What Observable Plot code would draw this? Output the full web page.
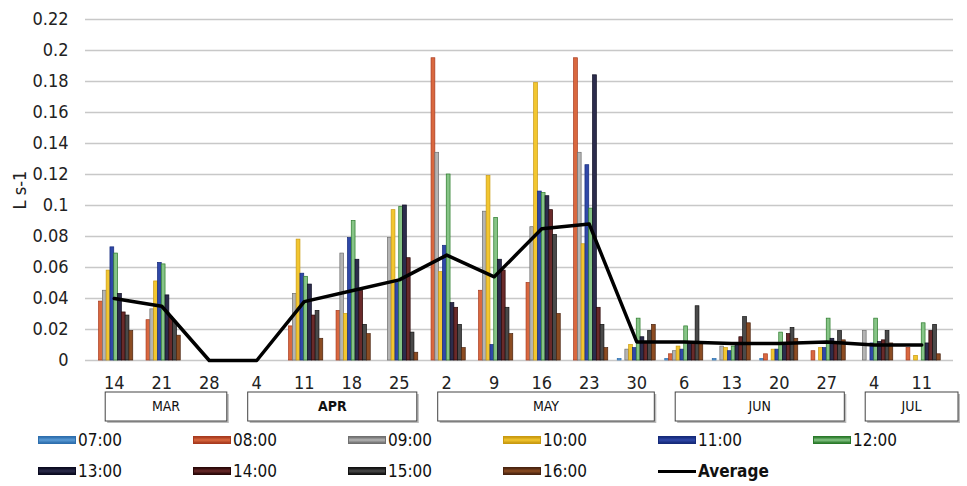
<!DOCTYPE html>
<html><head><meta charset="utf-8">
<script src="https://cdn.jsdelivr.net/npm/d3@7"></script>
<script src="https://cdn.jsdelivr.net/npm/@observablehq/plot@0.6"></script>
<style>
body{margin:0;background:#fff;font-family:"Liberation Sans Narrow","Arial Narrow","DejaVu Sans Condensed",Arial,sans-serif;}
#legend{position:relative;height:56px;width:967px;}
.item{position:absolute;display:flex;align-items:center;font-size:17px;color:#111;height:20px;}
.sw{width:38px;height:8px;margin-right:2px;box-sizing:border-box;}
</style></head><body><div id="chart"></div><div id="legend"></div>
<script>
const dates = ["14","21","28","4","11","18","25","2","9","16","23","30","6","13","20","27","4","11"];
const monthNames = ["MAR","APR","MAY","JUN","JUL"];
const monthFirst = [0,3,7,12,16];
const monthLast = [2,6,11,15,17];
const hours = ["07:00","08:00","09:00","10:00","11:00","12:00","13:00","14:00","15:00","16:00"];
const yTicks = [0,0.02,0.04,0.06,0.08,0.1,0.12,0.14,0.16,0.18,0.2,0.22];

const h07 = [0,0,0,0,0,0,0,0,0,0,0,0.001,0.001,0.001,0.001,0,0,0];
const h08 = [0.038,0.026,0,0,0.022,0.032,0,0.195,0.045,0.050,0.195,0,0.004,0,0.004,0.006,0,0.008];
const h09 = [0.045,0.033,0,0,0.043,0.069,0.079,0.134,0.096,0.086,0.134,0.007,0.006,0.009,0,0,0.019,0];
const h10 = [0.058,0.051,0,0,0.078,0.030,0.097,0.057,0.119,0.179,0.075,0.010,0.009,0.008,0.007,0.008,0,0.003];
const h11 = [0.073,0.063,0,0,0.056,0.079,0.050,0.074,0.010,0.109,0.126,0.008,0.007,0.006,0.007,0.008,0.011,0];
const h12 = [0.069,0.062,0,0,0.054,0.090,0.099,0.120,0.092,0.108,0.098,0.027,0.022,0.009,0.018,0.027,0.027,0.024];
const h13 = [0.043,0.042,0,0,0.049,0.065,0.100,0.037,0.065,0.106,0.184,0.015,0.012,0.011,0.010,0.014,0.012,0.011];
const h14 = [0.031,0.028,0,0,0.029,0.045,0.066,0.034,0.058,0.097,0.034,0.012,0.012,0.015,0.017,0.012,0.013,0.019];
const h15 = [0.029,0.025,0,0,0.032,0.023,0.018,0.023,0.034,0.081,0.023,0.019,0.035,0.028,0.021,0.019,0.019,0.023];
const h16 = [0.019,0.016,0,0,0.014,0.017,0.005,0.008,0.017,0.030,0.008,0.023,0.012,0.024,0.014,0.013,0.011,0.004];
const avg = [0.040,0.035,0,0,0.038,0.045,0.052,0.068,0.054,0.085,0.088,0.012,0.012,0.011,0.011,0.012,0.010,0.010];

const fills = ["#5b9bd5","#d9683f","#b4b4b4","#f2c630","#3048a8","#86c486","#2c2c4c","#6a2a2a","#4a4a4a","#8c4c22"];
const strokes = ["#2e6fae","#a83a1e","#707070","#c99a10","#152a7a","#2a7a2a","#0a0a20","#2a0808","#111111","#4a2410"];
const series = [h07,h08,h09,h10,h11,h12,h13,h14,h15,h16];

const table = [];
series.forEach((s,k)=>s.forEach((v,i)=>{ if(v>0) table.push({i,k,value:v}); }));

const FONT = '"Liberation Sans Narrow","Arial Narrow","DejaVu Sans Condensed",Arial,sans-serif';
const W = 967, H = 430, MB = 70;
const bw = 0.8/hours.length;

const chart = Plot.plot({
  width: W, height: H, marginLeft: 85, marginRight: 14, marginTop: 19, marginBottom: MB,
  style: {fontFamily: FONT, fontSize: "18px", color: "#222", background: "white"},
  x: {domain: [-0.5, dates.length - 0.5], range: [90, 945], axis: null},
  y: {domain: [0, 0.22], axis: null},
  color: {type: "identity"},
  marks: [
    Plot.ruleY(yTicks, {stroke: "#c8c8c8", strokeWidth: 1.5}),
    Plot.axisY(yTicks, {tickSize: 0, tickPadding: 17, tickFormat: d => String(+d.toFixed(2)), fontSize: 18,
      label: "L s-1", labelAnchor: "center", labelArrow: "none", labelOffset: 72}),
    Plot.axisX(d3.range(dates.length), {tickSize: 0, tickPadding: 16, tickFormat: i => dates[i], fontSize: 18, label: null}),
    Plot.rect(table, {x1: d => d.i - 0.4 + d.k*bw, x2: d => d.i - 0.4 + (d.k+1)*bw, y1: 0, y2: "value",
      fill: d => fills[d.k], stroke: d => strokes[d.k], strokeWidth: 0.7}),
    Plot.line(avg, {x: (d,i) => i, y: d => d, stroke: "#000", strokeWidth: 3.5})
  ]
});
document.getElementById("chart").appendChild(chart);

// month boxes under the date ticks
const xs = chart.scale("x");
const svg = d3.select(chart);
const g = svg.append("g");
const by = H - MB + 32, bh = 29;
monthNames.forEach((m,j) => {
  const x1 = xs.apply(monthFirst[j] - 0.18);
  const x2 = j === monthNames.length - 1 ? W - 9 : xs.apply(monthLast[j] + 0.38);
  g.append("rect").attr("x", x1+2).attr("y", by+2).attr("width", x2-x1).attr("height", bh).attr("fill", "#bbb");
  g.append("rect").attr("x", x1).attr("y", by).attr("width", x2-x1).attr("height", bh)
    .attr("fill", "white").attr("stroke", "#444").attr("stroke-width", 1);
  g.append("text").attr("x", (x1+x2)/2).attr("y", by + bh/2).attr("dy", "0.35em")
    .attr("text-anchor", "middle").attr("font-size", 14).attr("fill", "#111")
    .attr("font-weight", m === "APR" ? "bold" : "normal").text(m);
});

// legend
const legend = document.getElementById("legend");
const items = hours.map((h,k) => ({label: h, k}));
items.push({label: "Average", k: -1});
items.forEach((it, n) => {
  const col = n % 6, row = Math.floor(n / 6);
  const div = document.createElement("div");
  div.className = "item";
  div.style.left = (38 + 155*col) + "px";
  div.style.top = (row === 0 ? 0 : 31) + "px";
  const sw = document.createElement("div");
  sw.className = "sw";
  if (it.k >= 0) {
    sw.style.background = `linear-gradient(${strokes[it.k]}, ${fills[it.k]} 50%, ${strokes[it.k]})`;
    sw.style.border = `1px solid ${strokes[it.k]}`;
  } else {
    sw.style.height = "3px"; sw.style.background = "#000";
  }
  const t = document.createElement("span");
  t.textContent = it.label;
  if (it.k < 0) t.style.fontWeight = "bold";
  div.appendChild(sw); div.appendChild(t);
  legend.appendChild(div);
});
</script>
</body></html>
